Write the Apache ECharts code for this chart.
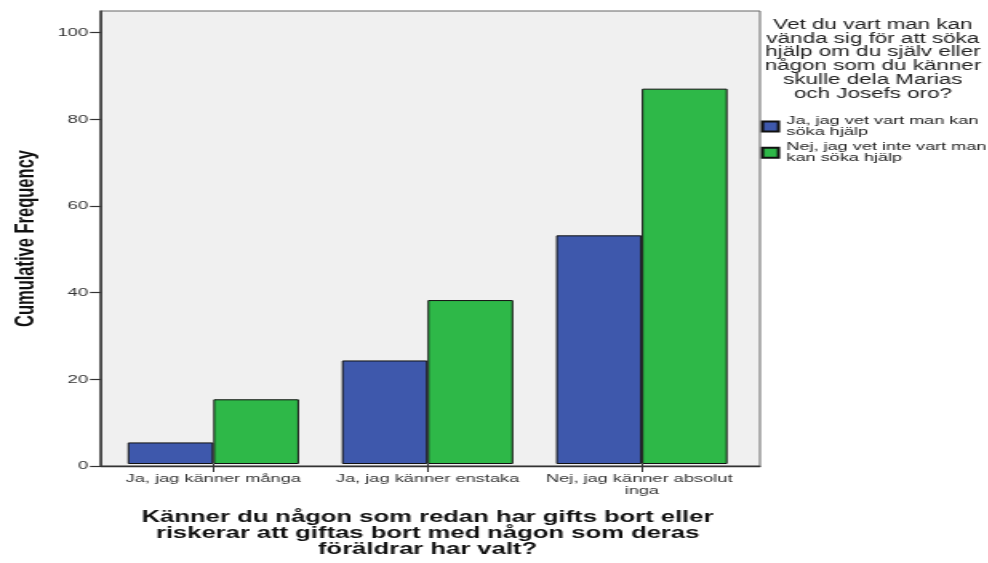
<!DOCTYPE html>
<html><head><meta charset="utf-8">
<script src="https://cdn.jsdelivr.net/npm/echarts@6/dist/echarts.min.js"></script>
<style>
html,body{margin:0;padding:0;background:#fff;overflow:hidden;width:988px;height:563px}
#wrap{width:988px;height:563px;overflow:hidden;position:relative}
#chart{width:625px;height:563px;transform:scaleX(1.6);transform-origin:0 0}
</style></head>
<body><div id="wrap"><div id="chart"></div></div>
<script>
// ---- data ----
const categories = ['Ja, jag känner många', 'Ja, jag känner enstaka', 'Nej, jag känner absolut inga'];
const seriesNames = ['Ja, jag vet vart man kan söka hjälp', 'Nej, jag vet inte vart man kan söka hjälp'];
const legendLabels = ['Ja, jag vet vart man kan\nsöka hjälp', 'Nej, jag vet inte vart man\nkan söka hjälp'];
const valuesJa = [5, 24, 53];
const valuesNej = [15, 38, 87];
const yTicks = [0, 20, 40, 60, 80, 100];
const yTitle = 'Cumulative Frequency';
const xTitle = 'Känner du någon som redan har gifts bort eller\nriskerar att giftas bort med någon som deras\nföräldrar har valt?';
const legendTitle = 'Vet du vart man kan\nvända sig för att söka\nhjälp om du själv eller\nnågon som du känner\nskulle dela Marias\noch Josefs oro?';

// ---- chart ----
const FONT = 'Liberation Sans, Arial, sans-serif';
const chart = echarts.init(document.getElementById('chart'), null, {renderer: 'canvas'});
chart.setOption({
  animation: false,
  backgroundColor: '#ffffff',
  textStyle: {fontFamily: FONT},
  title: {
    text: legendTitle,
    left: 545.6, top: 18, padding: 0,
    textAlign: 'center',
    textStyle: {fontFamily: FONT, fontSize: 14, fontWeight: 'normal', color: '#222', lineHeight: 13.8}
  },
  legend: {
    orient: 'vertical',
    left: 475.6, top: 115.5, padding: 0,
    itemWidth: 10, itemHeight: 10, itemGap: 4.3,
    icon: 'rect',
    data: seriesNames,
    formatter: function (name) { return legendLabels[seriesNames.indexOf(name)]; },
    textStyle: {fontFamily: FONT, fontSize: 11.3, lineHeight: 11, color: '#222'}
  },
  grid: [
    {left: 60, top: 11, width: 415, height: 455, show: true, backgroundColor: '#f0f0f0', borderColor: '#666', borderWidth: 1},
    {left: 66.4, top: 11, width: 401.7, height: 455, show: false}
  ],
  xAxis: [
    {type: 'value', gridIndex: 0, min: 0, max: 1,
     axisLine: {show: true, lineStyle: {color: '#333', width: 1.3}},
     axisTick: {show: false}, axisLabel: {show: false}, splitLine: {show: false}},
    {type: 'category', gridIndex: 1, data: categories,
     axisLine: {show: false},
     axisTick: {show: true, alignWithLabel: true, length: 8, lineStyle: {color: '#333', width: 1}},
     axisLabel: {interval: 0, margin: 9, fontFamily: FONT, fontSize: 11.4, lineHeight: 12, color: '#333', width: 125, overflow: 'break', align: 'center'},
     name: xTitle, nameLocation: 'middle', nameGap: 46,
     nameTextStyle: {fontFamily: FONT, fontSize: 16, fontWeight: 'bold', color: '#111', lineHeight: 16, align: 'center'}}
  ],
  yAxis: [
    {type: 'value', gridIndex: 0, min: 0, max: 105, interval: 20,
     axisLine: {show: true, lineStyle: {color: '#333', width: 1.5}},
     axisTick: {show: true, length: 7, customValues: yTicks, lineStyle: {color: '#333', width: 1.2}},
     axisLabel: {margin: 8, customValues: yTicks, fontFamily: FONT, fontSize: 11.6, color: '#333'},
     splitLine: {show: false},
     name: yTitle, nameLocation: 'middle', nameGap: 35,
     nameTextStyle: {fontFamily: FONT, fontSize: 16.5, fontWeight: 'bold', color: '#111'}},
    {type: 'value', gridIndex: 1, min: 0, max: 105, show: false}
  ],
  series: [
    {name: seriesNames[0], type: 'bar', xAxisIndex: 1, yAxisIndex: 1, data: valuesJa,
     barGap: '0%', barCategoryGap: '20%',
     itemStyle: {color: '#3E58AC', borderColor: '#111', borderWidth: 1}},
    {name: seriesNames[1], type: 'bar', xAxisIndex: 1, yAxisIndex: 1, data: valuesNej,
     barGap: '0%', barCategoryGap: '20%',
     itemStyle: {color: '#2EB848', borderColor: '#111', borderWidth: 1}}
  ]
});
</script>
</body></html>
